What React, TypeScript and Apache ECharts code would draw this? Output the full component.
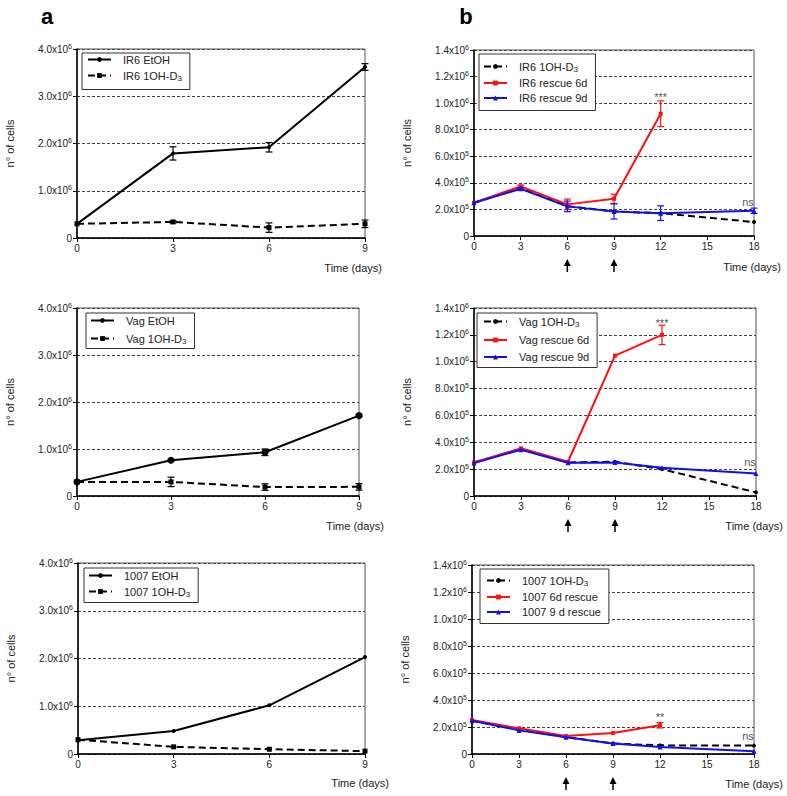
import React, { useEffect, useRef } from "react";
import * as echarts from "echarts";

// ---------- data ----------
const daysShort = [0, 3, 6, 9];
const daysLong = [0, 3, 6, 9, 12, 18];
const daysRescue6 = [0, 3, 6, 9, 12];
const arrowDays = [6, 9];

// panel a – IR6
const ir6EtOH = [3.0e5, 1.79e6, 1.92e6, 3.62e6];
const ir6EtOHErr = [0, 1.4e5, 1.0e5, 7e4];
const ir6D3 = [3.0e5, 3.4e5, 2.2e5, 3.0e5];
const ir6D3Err = [0, 2e4, 1.0e5, 8e4];

// panel b – IR6
const ir6D3Long = [2.5e5, 3.6e5, 2.25e5, 1.85e5, 1.72e5, 1.05e5];
const ir6Rescue6 = [2.5e5, 3.73e5, 2.38e5, 2.8e5, 9.2e5];
const ir6Rescue6Err = [0, 1e4, 4e4, 3.5e4, 9.7e4];
const ir6Rescue9 = [2.5e5, 3.55e5, 2.23e5, 1.85e5, 1.72e5, 1.9e5];
const ir6Rescue9Err = [0, 1e4, 4e4, 5.7e4, 5.5e4, 2e4];
const ir6Marks: [number, number, string][] = [[12, 1.05e6, "***"], [18, 2.55e5, "ns"]];

// panel a – Vag
const vagEtOH = [3.0e5, 7.6e5, 9.3e5, 1.71e6];
const vagEtOHErr = [0, 2e4, 7e4, 2e4];
const vagD3 = [3.0e5, 3.0e5, 1.9e5, 1.95e5];
const vagD3Err = [0, 1.0e5, 7e4, 7e4];

// panel b – Vag
const vagD3Long = [2.5e5, 3.5e5, 2.5e5, 2.55e5, 2.0e5, 0.27e5];
const vagRescue6 = [2.5e5, 3.55e5, 2.55e5, 1.045e6, 1.2e6];
const vagRescue6Err = [0, 0, 0, 0, 7.2e4];
const vagRescue9 = [2.45e5, 3.45e5, 2.47e5, 2.5e5, 2.1e5, 1.67e5];
const vagMarks: [number, number, string][] = [[12, 1.29e6, "***"], [18, 2.53e5, "ns"]];

// panel a – 1007
const c1007EtOH = [2.9e5, 4.8e5, 1.02e6, 2.03e6];
const c1007D3 = [3.0e5, 1.5e5, 1.0e5, 0.6e5];

// panel b – 1007
const c1007D3Long = [2.47e5, 1.8e5, 1.26e5, 0.77e5, 0.64e5, 0.62e5];
const c1007Rescue6 = [2.52e5, 1.9e5, 1.33e5, 1.56e5, 2.13e5];
const c1007Rescue6Err = [0, 0, 0, 0, 2e4];
const c1007Rescue9 = [2.47e5, 1.75e5, 1.24e5, 0.77e5, 0.52e5, 0.2e5];
const c1007Marks: [number, number, string][] = [[12, 2.75e5, "**"], [18, 1.33e5, "ns"]];

// ---------- layout ----------
const FONT = '"Liberation Sans", Arial, Helvetica, sans-serif';
const BLACK = "#000000";
const RED = "#ff1010";
const BLUE = "#1010ee";
const TXT = "#222222";

const layouts = [
  { left: 77, top: 49, width: 288, height: 189, xMax: 9, yMax: 4e6, yInt: 1e6, timeDx: 17, timeDy: 30 },
  { left: 474, top: 50, width: 280, height: 186, xMax: 18, yMax: 1.4e6, yInt: 2e5, timeDx: 27, timeDy: 31 },
  { left: 77, top: 308, width: 282, height: 188, xMax: 9, yMax: 4e6, yInt: 1e6, timeDx: 25, timeDy: 30 },
  { left: 474, top: 308, width: 282, height: 188, xMax: 18, yMax: 1.4e6, yInt: 2e5, timeDx: 27, timeDy: 30 },
  { left: 78, top: 563, width: 287, height: 191, xMax: 9, yMax: 4e6, yInt: 1e6, timeDx: 24, timeDy: 29 },
  { left: 472, top: 565, width: 282, height: 189, xMax: 18, yMax: 1.4e6, yInt: 2e5, timeDx: 29, timeDy: 30 },
];

const mkLine = (name: string, g: number, xs: number[], ys: number[], color: string, dashed: boolean, symbol: string, size: number, z: number) => ({
  type: "line",
  name,
  xAxisIndex: g,
  yAxisIndex: g,
  data: ys.map((y, i) => [xs[i], y]),
  symbol,
  symbolSize: size,
  showSymbol: true,
  lineStyle: { color, width: 2, type: dashed ? [7, 4] : "solid" },
  itemStyle: { color },
  z,
  silent: true,
});

const mkErr = (g: number, xs: number[], ys: number[], es: number[], color: string, z: number) => ({
  type: "custom",
  name: `err-${g}-${z}`,
  xAxisIndex: g,
  yAxisIndex: g,
  coordinateSystem: "cartesian2d",
  data: ys.map((y, i) => [xs[i], y, es[i]]).filter((d) => d[2] > 0),
  encode: { x: 0, y: 1 },
  z,
  silent: true,
  clip: false,
  renderItem: (_p: any, api: any) => {
    const x = api.value(0);
    const y = api.value(1);
    const e = api.value(2);
    const t = api.coord([x, y + e]);
    const b = api.coord([x, y - e]);
    const w = 3.5;
    const st = { stroke: color, lineWidth: 1.2 };
    return {
      type: "group",
      children: [
        { type: "line", shape: { x1: t[0], y1: t[1], x2: b[0], y2: b[1] }, style: st },
        { type: "line", shape: { x1: t[0] - w, y1: t[1], x2: t[0] + w, y2: t[1] }, style: st },
        { type: "line", shape: { x1: b[0] - w, y1: b[1], x2: b[0] + w, y2: b[1] }, style: st },
      ],
    };
  },
});

const mkMarks = (g: number, marks: [number, number, string][]) => ({
  type: "scatter",
  name: `marks-${g}`,
  xAxisIndex: g,
  yAxisIndex: g,
  data: marks.map((m) => ({
    value: [m[0], m[1]],
    label: { formatter: m[2], offset: m[2] === "ns" ? [-6, 0] : [0, 0] },
  })),
  symbolSize: 0,
  clip: false,
  silent: true,
  z: 10,
  label: { show: true, position: "inside", fontFamily: FONT, fontSize: 11, color: TXT },
});

const legendFmt = (name: string) => {
  const label = name.split("|")[1];
  if (label.endsWith("D3")) return `{n|${label.slice(0, -1)}}{sub|3}`;
  return `{n|${label}}`;
};

const mkLegend = (names: string[], left: number, top: number, itemGap: number, padding: number[]) => ({
  data: names,
  left,
  top,
  orient: "vertical",
  borderColor: "#333",
  borderWidth: 1,
  backgroundColor: "#ffffff",
  padding,
  itemGap,
  itemWidth: 23,
  itemHeight: 6,
  selectedMode: false,
  formatter: legendFmt,
  textStyle: {
    fontFamily: FONT,
    fontSize: 11,
    color: TXT,
    padding: [0, 0, 0, 7],
    rich: {
      n: { fontFamily: FONT, fontSize: 11, color: TXT, lineHeight: 14 },
      sub: { fontFamily: FONT, fontSize: 8, color: TXT, lineHeight: 8, verticalAlign: "bottom" },
    },
  },
});

const yFmt = (v: number) => {
  if (v === 0) return "{m|0}";
  const exp = Math.floor(Math.log10(v) + 1e-9);
  const mant = (v / Math.pow(10, exp)).toFixed(1);
  return `{m|${mant}x10}{s|${exp}}`;
};

export default function App() {
  const ref = useRef<HTMLDivElement>(null);
  useEffect(() => {
    if (!ref.current) return;
    const chart = echarts.init(ref.current, null, { renderer: "svg" });

    const grid = layouts.map((l) => ({
      left: l.left,
      top: l.top,
      width: l.width,
      height: l.height,
      show: true,
      borderColor: "#555",
      borderWidth: 1,
      backgroundColor: "transparent",
    }));

    const xAxis = layouts.map((l, i) => ({
      type: "value",
      gridIndex: i,
      min: 0,
      max: l.xMax,
      interval: 3,
      axisLine: { show: true, onZero: false, lineStyle: { color: BLACK, width: 1.5 } },
      axisTick: { show: true, length: 4, lineStyle: { color: BLACK } },
      axisLabel: { fontFamily: FONT, fontSize: 10, color: TXT, margin: 5 },
      splitLine: { show: false },
    }));

    const yAxis = layouts.map((l, i) => ({
      type: "value",
      gridIndex: i,
      min: 0,
      max: l.yMax,
      interval: l.yInt,
      name: "n° of cells",
      nameLocation: "middle",
      nameGap: 62,
      nameTextStyle: { fontFamily: FONT, fontSize: 11, color: TXT },
      axisLine: { show: true, onZero: false, lineStyle: { color: BLACK, width: 1.5 } },
      axisTick: { show: true, length: 4, lineStyle: { color: BLACK } },
      axisLabel: {
        formatter: yFmt,
        margin: 5,
        rich: {
          m: { fontFamily: FONT, fontSize: 10, color: TXT, lineHeight: 13 },
          s: { fontFamily: FONT, fontSize: 7, color: TXT, lineHeight: 7, verticalAlign: "top" },
        },
      },
      splitLine: { show: true, lineStyle: { color: "#444", type: [3, 2], width: 1 } },
    }));

    const series: any[] = [
      // panel 0
      mkLine("a1|IR6 EtOH", 0, daysShort, ir6EtOH, BLACK, false, "circle", 4, 3),
      mkErr(0, daysShort, ir6EtOH, ir6EtOHErr, BLACK, 4),
      mkLine("a1|IR6 1OH-D3", 0, daysShort, ir6D3, BLACK, true, "rect", 5, 3),
      mkErr(0, daysShort, ir6D3, ir6D3Err, BLACK, 4),
      // panel 1
      mkLine("b1|IR6 1OH-D3", 1, daysLong, ir6D3Long, BLACK, true, "circle", 4, 3),
      mkLine("b1|IR6 rescue 6d", 1, daysRescue6, ir6Rescue6, RED, false, "rect", 4, 4),
      mkErr(1, daysRescue6, ir6Rescue6, ir6Rescue6Err, RED, 4),
      mkLine("b1|IR6 rescue 9d", 1, daysLong, ir6Rescue9, BLUE, false, "triangle", 5, 5),
      mkErr(1, daysLong, ir6Rescue9, ir6Rescue9Err, BLUE, 5),
      mkMarks(1, ir6Marks),
      // panel 2
      mkLine("a2|Vag EtOH", 2, daysShort, vagEtOH, BLACK, false, "circle", 7, 3),
      mkErr(2, daysShort, vagEtOH, vagEtOHErr, BLACK, 4),
      mkLine("a2|Vag 1OH-D3", 2, daysShort, vagD3, BLACK, true, "rect", 5, 3),
      mkErr(2, daysShort, vagD3, vagD3Err, BLACK, 4),
      // panel 3
      mkLine("b2|Vag 1OH-D3", 3, daysLong, vagD3Long, BLACK, true, "circle", 4, 3),
      mkLine("b2|Vag rescue 6d", 3, daysRescue6, vagRescue6, RED, false, "rect", 4, 4),
      mkErr(3, daysRescue6, vagRescue6, vagRescue6Err, RED, 4),
      mkLine("b2|Vag rescue 9d", 3, daysLong, vagRescue9, BLUE, false, "triangle", 5, 5),
      mkMarks(3, vagMarks),
      // panel 4
      mkLine("a3|1007 EtOH", 4, daysShort, c1007EtOH, BLACK, false, "circle", 4, 3),
      mkLine("a3|1007 1OH-D3", 4, daysShort, c1007D3, BLACK, true, "rect", 5, 3),
      // panel 5
      mkLine("b3|1007 1OH-D3", 5, daysLong, c1007D3Long, BLACK, true, "circle", 4, 3),
      mkLine("b3|1007 6d rescue", 5, daysRescue6, c1007Rescue6, RED, false, "rect", 4, 4),
      mkErr(5, daysRescue6, c1007Rescue6, c1007Rescue6Err, RED, 4),
      mkLine("b3|1007 9 d rescue", 5, daysLong, c1007Rescue9, BLUE, false, "triangle", 5, 5),
      mkMarks(5, c1007Marks),
    ];

    const legend = [
      mkLegend(["a1|IR6 EtOH", "a1|IR6 1OH-D3"], 82, 53, 5, [1, 8, 7, 5]),
      mkLegend(["b1|IR6 1OH-D3", "b1|IR6 rescue 6d", "b1|IR6 rescue 9d"], 479, 54, 4, [7, 8, 7, 4]),
      mkLegend(["a2|Vag EtOH", "a2|Vag 1OH-D3"], 86, 313, 7, [2, 8, 3, 4]),
      mkLegend(["b2|Vag 1OH-D3", "b2|Vag rescue 6d", "b2|Vag rescue 9d"], 477, 313, 6, [3, 8, 5, 6]),
      mkLegend(["a3|1007 EtOH", "a3|1007 1OH-D3"], 84, 568, 5, [2, 8, 4, 4]),
      mkLegend(["b3|1007 1OH-D3", "b3|1007 6d rescue", "b3|1007 9 d rescue"], 480, 569, 4, [6, 8, 6, 6]),
    ];

    chart.setOption({
      animation: false,
      backgroundColor: "#ffffff",
      textStyle: { fontFamily: FONT },
      grid,
      xAxis,
      yAxis,
      legend,
      series,
    });

    // annotations that depend on axis positions
    const graphic: any[] = [
      { type: "text", style: { text: "a", x: 47, y: 16, align: "center", verticalAlign: "middle", fontFamily: FONT, fontSize: 22, fontWeight: "bold", fill: BLACK } },
      { type: "text", style: { text: "b", x: 466, y: 16, align: "center", verticalAlign: "middle", fontFamily: FONT, fontSize: 22, fontWeight: "bold", fill: BLACK } },
    ];
    layouts.forEach((l, i) => {
      const right = chart.convertToPixel({ xAxisIndex: i }, l.xMax) as number;
      const bottom = l.top + l.height;
      graphic.push({
        type: "text",
        style: { text: "Time (days)", x: right + l.timeDx, y: bottom + l.timeDy, align: "right", verticalAlign: "middle", fontFamily: FONT, fontSize: 11, fill: TXT },
      });
      if (l.xMax === 18) {
        arrowDays.forEach((d) => {
          const x = chart.convertToPixel({ xAxisIndex: i }, d) as number;
          const yTop = bottom + 23;
          graphic.push({ type: "polygon", shape: { points: [[x, yTop], [x - 3.5, yTop + 7], [x + 3.5, yTop + 7]] }, style: { fill: BLACK } });
          graphic.push({ type: "line", shape: { x1: x, y1: yTop + 5, x2: x, y2: yTop + 13 }, style: { stroke: BLACK, lineWidth: 1.5 } });
        });
      }
    });
    chart.setOption({ graphic });

    return () => chart.dispose();
  }, []);
  return <div ref={ref} style={{ position: "absolute", left: 0, top: 0, width: 787, height: 796, background: "#fff" }} />;
}
